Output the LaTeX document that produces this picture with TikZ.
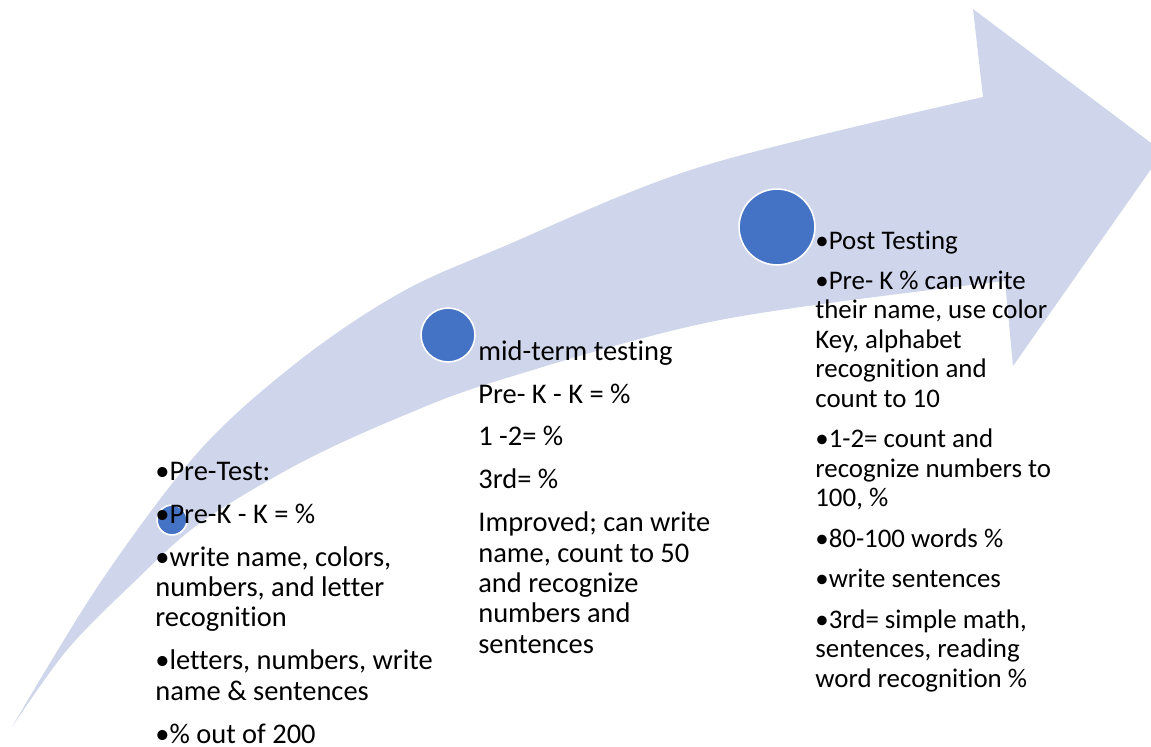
\documentclass[tikz,border=0pt]{standalone}
\usepackage{fontspec}
\setmainfont{Carlito}[Ligatures=NoCommon]
\usepackage{tikz}

\tikzset{
  tappa/.style={circle, fill=colTappa, draw=white, line width=0.9pt, inner sep=0pt},
  testo/.style={anchor=base west, align=left, inner sep=0pt, font=\fontsize{16.2}{17.24}\selectfont},
}

\begin{document}
\begin{tikzpicture}[x=0.02cm, y=-0.02cm]

% Colori
\definecolor{colFreccia}{HTML}{CFD5EA}
\definecolor{colTappa}{HTML}{4472C4}

% Spazio tra i paragrafi
\def\pg{7.2pt}

\useasboundingbox (0,0) rectangle (1151,746);

% Freccia curva (la punta esce dal bordo)
\begin{scope}
\clip (0,0) rectangle (1151,746);
\fill[colFreccia] plot[smooth, tension=0.55] coordinates {(12,727) (100,583) (200,450) (300,360) (400,293) (500,248) (700,167) (983,97)}
  -- (973,9) -- (1163,152) -- (1013,366) -- (1005,281)
  -- plot[smooth, tension=0.55] coordinates {(1005,281) (720,320) (500,380) (400,417) (300,463) (200,523) (133,583) (67,650) (12,727)}
  -- cycle;
\end{scope}

% Tappe
\node[tappa, minimum size=17pt] (t1) at (172,520) {};
\node[tappa, minimum size=30.7pt] (t2) at (448,335) {};
\node[tappa, minimum size=43.2pt] (t3) at (777,227) {};

% Pre-test (ancorato all'ultima riga)
\node[testo] (pre) at (155,743) {•Pre-Test:\\[\pg]•Pre-K - K = \%\\[\pg]•write name, colors,\\numbers, and letter\\recognition\\[\pg]•letters, numbers, write\\name \& sentences\\[\pg]•\% out of 200};

% Metà anno
\node[testo] (mid) at (478,653) {mid-term testing\\[\pg]Pre- K - K = \%\\[\pg]1 -2= \%\\[\pg]3rd= \%\\[\pg]Improved; can write\\name, count to 50\\and recognize\\numbers and\\sentences};

% Post test (testo un po' più piccolo)
\node[testo, font=\fontsize{15.3}{16.79}\selectfont] (post) at (815,687) {•Post Testing\\[6.2pt]•Pre- K \% can write\\their name, use color\\Key, alphabet\\recognition and\\count to 10\\[6.2pt]•1-2= count and\\recognize numbers to\\100, \%\\[6.2pt]•80-100 words \%\\[6.2pt]•write sentences\\[6.2pt]•3rd= simple math,\\sentences, reading\\word recognition \%};

\end{tikzpicture}
\end{document}
